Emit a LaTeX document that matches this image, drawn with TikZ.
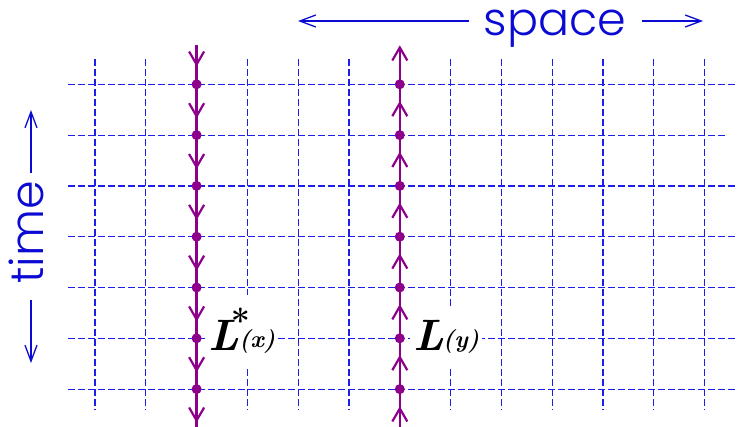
\documentclass[tikz,border=0pt]{standalone}
\usepackage{fontspec}
\newfontfamily\labfont{Poppins}[UprightFont=* Light]
\usetikzlibrary{arrows.meta,calc}
\definecolor{gridblue}{RGB}{30,30,235}
\definecolor{txtblue}{RGB}{10,10,210}
\definecolor{wl}{RGB}{140,0,140}
\newcommand{\bigL}{{\fontsize{44}{48}\selectfont\bfseries\itshape L}}
\newcommand{\starsup}{\raisebox{16.5pt}{\fontsize{34}{34}\selectfont\bfseries *}}
\newcommand{\parsub}[1]{\raisebox{3pt}{\fontsize{24}{24}\selectfont\bfseries\itshape\addfontfeatures{FakeBold=1.3}(#1)}}
\begin{document}
\begin{tikzpicture}[x=1pt,y=-1pt,
  gridline/.style={gridblue, line width=1.2pt, dash pattern=on 6.5pt off 3.5pt},
  axisarrow/.style={txtblue, line width=1.3pt, -{Straight Barb[length=16pt,width=12pt,line width=1.3pt]}},
  wline/.style={wl, line width=2.6pt},
  wdot/.style={circle, fill=wl, inner sep=0pt, minimum size=10pt},
  chev/.style={wl, line width=2.2pt},
  lab/.style={fill=white, inner xsep=3pt, inner ysep=13pt, anchor=base west},
  axlab/.style={txtblue, font=\fontsize{46}{50}\selectfont\labfont, inner sep=0pt},
  chevdown/.pic={\draw[chev] (-7.5,-6.5) -- (0,6.5) -- (7.5,-6.5);},
  chevup/.pic={\draw[chev] (-7.5,6.5) -- (0,-6.5) -- (7.5,6.5);}
]
\useasboundingbox (0,0) rectangle (744,426);
% grid
\foreach \k in {0,...,12} \draw[gridline] ({95+50.8*\k},59) -- ({95+50.8*\k},410);
\foreach \j in {0,2,3,4,5,6} \draw[gridline] (68,{84.3+50.8*\j}) -- (735,{84.3+50.8*\j});
\draw[gridline] (68,135.1) -- (725,135.1);
% labels
\node[lab] (lstar) at (205,350) {\bigL\kern-8pt\starsup\kern-11pt\parsub{x}};
\node[lab] (ly) at (410,350) {\bigL\kern-1pt\parsub{y}};
% axis labels
\node[axlab, anchor=base] (space) at (555,35) {space};
\coordinate (spa) at (469,21); \coordinate (spb) at (298,21);
\coordinate (spc) at (642,21); \coordinate (spd) at (703,21);
\draw[axisarrow] (spa) -- (spb);
\draw[axisarrow] (spc) -- (spd);
\node[axlab, anchor=base, rotate=90] (time) at (43,232.5) {time};
\coordinate (tia) at (31,173); \coordinate (tib) at (31,110);
\coordinate (tic) at (31,300); \coordinate (tid) at (31,363);
\draw[axisarrow] (tia) -- (tib);
\draw[axisarrow] (tic) -- (tid);
% world lines
\coordinate (Ltop) at (196.6,45); \coordinate (Lbot) at (196.6,430);
\coordinate (Rtop) at (399.8,47); \coordinate (Rbot) at (399.8,430);
\draw[wline] (Ltop) -- (Lbot);
\draw[wline] (Rtop) -- (Rbot);
\path (196.6,58) pic{chevdown};
\path (196.6,414) pic{chevdown};
\path (399.8,54) pic{chevup};
\path (399.8,415) pic{chevup};
\foreach \j in {0,...,5} {
  \path (196.6,{109.7+50.8*\j}) pic{chevdown};
  \path (399.8,{109.7+50.8*\j}) pic{chevup};
}
\foreach \j in {1,...,7} {
  \node[wdot] (Ld\j) at (196.6,{84.3+50.8*(\j-1)}) {};
  \node[wdot] (Rd\j) at (399.8,{84.3+50.8*(\j-1)}) {};
}
\end{tikzpicture}
\end{document}
